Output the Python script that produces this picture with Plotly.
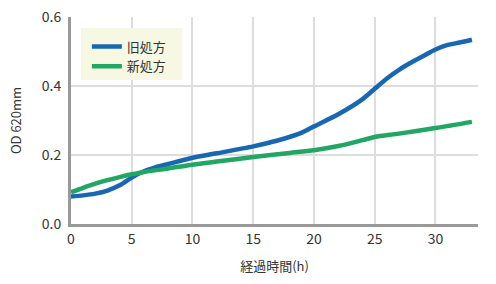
import plotly.graph_objects as go

old_x = [0, 1, 2, 3, 4, 5, 6, 7, 8, 10, 12, 15, 17, 19, 20, 22, 24, 25, 26, 27, 28, 29, 30, 31, 32, 33]
old_y = [0.080, 0.083, 0.088, 0.097, 0.112, 0.135, 0.153, 0.165, 0.174, 0.192, 0.205, 0.225, 0.242, 0.265,
         0.283, 0.318, 0.362, 0.392, 0.422, 0.447, 0.468, 0.487, 0.506, 0.519, 0.526, 0.534]
new_x = [0, 1, 2, 3, 4, 5, 6, 8, 10, 12, 15, 18, 20, 22, 24, 25, 27, 30, 33]
new_y = [0.092, 0.105, 0.117, 0.127, 0.136, 0.144, 0.151, 0.161, 0.172, 0.181, 0.194, 0.206, 0.214, 0.226,
         0.243, 0.252, 0.262, 0.278, 0.296]
names = ["旧処方", "新処方"]
x_ticks = [0, 5, 10, 15, 20, 25, 30]
y_ticks = [0.0, 0.2, 0.4, 0.6]

font = "Noto Sans CJK JP"
fig = go.Figure()
fig.add_trace(go.Scatter(x=old_x, y=old_y, name=names[0], mode="lines",
                         line=dict(color="#1a67b1", width=4.5, shape="spline", smoothing=0.8)))
fig.add_trace(go.Scatter(x=new_x, y=new_y, name=names[1], mode="lines",
                         line=dict(color="#21a663", width=4.5, shape="spline", smoothing=0.8)))

# legend background panel
fig.add_shape(type="rect", xref="paper", yref="paper", x0=0.0246, x1=0.273, y0=0.696, y1=0.947,
              fillcolor="#f7f8e4", line=dict(width=0), layer="above")

fig.update_layout(
    width=496, height=284,
    margin=dict(l=71, r=18, t=17, b=60, autoexpand=False),
    paper_bgcolor="white", plot_bgcolor="white",
    font=dict(family=font, color="#333333", size=13),
    legend=dict(x=0.039, y=0.93, xanchor="left", yanchor="top",
                bgcolor="rgba(0,0,0,0)", font=dict(size=13, color="#333333"),
                itemwidth=30, tracegroupgap=0),
    xaxis=dict(range=[0, 33.5], tickvals=x_ticks, showgrid=True, gridcolor="#dddddd", gridwidth=2,
               showline=True, linecolor="#999999", linewidth=3, zeroline=False, ticks="",
               tickfont=dict(size=14), automargin=False,
               title=dict(text="経過時間(h)", font=dict(size=13), standoff=16)),
    yaxis=dict(range=[0, 0.6], tickvals=y_ticks, tickformat=".1f", showgrid=True, gridcolor="#dddddd",
               gridwidth=2, showline=True, linecolor="#999999", linewidth=3, zeroline=False, ticks="",
               ticklabelstandoff=4, tickfont=dict(size=14), automargin=False,
               title=dict(text="OD 620mm", font=dict(size=13), standoff=18)),
)
fig.write_html("out.html")
